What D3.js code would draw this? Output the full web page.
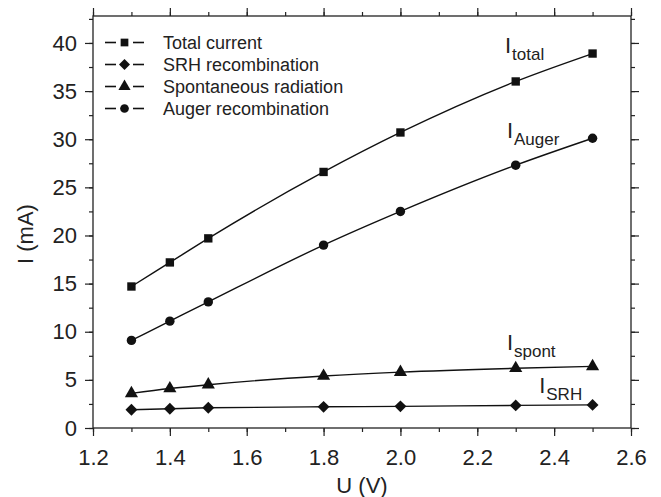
<!DOCTYPE html>
<html>
<head>
<meta charset="utf-8">
<script src="https://cdn.jsdelivr.net/npm/d3@7"></script>
<style>
  body { margin: 0; background: #fff; }
  text { font-family: "Liberation Sans", Arial, sans-serif; fill: #222; }
</style>
</head>
<body>
<svg id="chart" width="661" height="497"></svg>
<script>
// data
var voltages = [1.3, 1.4, 1.5, 1.8, 2.0, 2.3, 2.5];
var totalCurrent = [14.7, 17.2, 19.7, 26.6, 30.7, 36.0, 38.9];
var srhCurrent = [1.9, 2.0, 2.1, 2.2, 2.25, 2.35, 2.4];
var spontCurrent = [3.6, 4.1, 4.5, 5.4, 5.8, 6.2, 6.4];
var augerCurrent = [9.1, 11.1, 13.1, 19.0, 22.5, 27.3, 30.1];
var xTicks = [1.2, 1.4, 1.6, 1.8, 2.0, 2.2, 2.4, 2.6];
var yTicks = [0, 5, 10, 15, 20, 25, 30, 35, 40];
var legendNames = ["Total current", "SRH recombination", "Spontaneous radiation", "Auger recombination"];
var labelSubs = ["total", "SRH", "spont", "Auger"];
var labelU = [2.272, 2.361, 2.277, 2.277];
var labelI = [38.95, 3.64, 8.1, 30.1];

var svg = d3.select('#chart');
var plot = { left: 93, right: 631, top: 16, bottom: 428 };
var FONT = '"Liberation Sans", Arial, sans-serif';

var x = d3.scaleLinear().domain([1.2, 2.6]).range([plot.left, plot.right]);
var y = d3.scaleLinear().domain([0, 42.8]).range([plot.bottom, plot.top]);

var series = [
  { name: legendNames[0], values: totalCurrent, symbol: d3.symbolSquare, size: 70 },
  { name: legendNames[1], values: srhCurrent, symbol: d3.symbolDiamond2, size: 90 },
  { name: legendNames[2], values: spontCurrent, symbol: d3.symbolTriangle, size: 75 },
  { name: legendNames[3], values: augerCurrent, symbol: d3.symbolCircle, size: 70 }
];

// frame
svg.append('rect')
  .attr('x', plot.left).attr('y', plot.top)
  .attr('width', plot.right - plot.left).attr('height', plot.bottom - plot.top)
  .attr('fill', 'none').attr('stroke', '#222').attr('stroke-width', 1.3);

var minorX = d3.range(1.2, 2.61, 0.1);
var minorY = d3.range(0, 42.6, 2.5);

function drawAxis(axis, transform, showLabels) {
  var g = svg.append('g').attr('transform', transform).call(axis);
  g.select('.domain').remove();
  g.selectAll('line').attr('stroke', '#222').attr('stroke-width', 1.2);
  if (!showLabels) g.selectAll('text').remove();
  else g.selectAll('text').attr('font-size', 22).attr('fill', '#222').attr('font-family', FONT);
  return g;
}

// minor ticks on all sides
drawAxis(d3.axisBottom(x).tickValues(minorX).tickSize(4), `translate(0,${plot.bottom})`, false);
drawAxis(d3.axisTop(x).tickValues(minorX).tickSize(4), `translate(0,${plot.top})`, false);
drawAxis(d3.axisLeft(y).tickValues(minorY).tickSize(4), `translate(${plot.left},0)`, false);
drawAxis(d3.axisRight(y).tickValues(minorY).tickSize(4), `translate(${plot.right},0)`, false);

// major ticks
drawAxis(d3.axisBottom(x).tickValues(xTicks).tickSize(8).tickPadding(13).tickFormat(d3.format('.1f')),
  `translate(0,${plot.bottom})`, true);
drawAxis(d3.axisTop(x).tickValues(xTicks).tickSize(8), `translate(0,${plot.top})`, false);
drawAxis(d3.axisLeft(y).tickValues(yTicks).tickSize(8).tickPadding(8).tickFormat(d3.format('d')),
  `translate(${plot.left},0)`, true);
drawAxis(d3.axisRight(y).tickValues(yTicks).tickSize(8), `translate(${plot.right},0)`, false);

// axis titles
svg.append('text').attr('x', (plot.left + plot.right) / 2).attr('y', 493)
  .attr('text-anchor', 'middle').attr('font-size', 22).text('U (V)');
svg.append('text').attr('transform', `translate(33,234) rotate(-90)`)
  .attr('text-anchor', 'middle').attr('font-size', 22).text('I (mA)');

// curves
var line = d3.line()
  .x((d, i) => x(voltages[i]))
  .y(d => y(d))
  .curve(d3.curveMonotoneX);

series.forEach(function(s) {
  var g = svg.append('g');
  g.append('path').attr('d', line(s.values))
    .attr('fill', 'none').attr('stroke', '#111').attr('stroke-width', 1.4);
  g.selectAll('path.pt').data(s.values).enter().append('path')
    .attr('class', 'pt')
    .attr('transform', (d, i) => `translate(${x(voltages[i])},${y(d)})`)
    .attr('d', d3.symbol().type(s.symbol).size(s.size))
    .attr('fill', '#111');
});

// legend
var legend = svg.append('g').attr('transform', 'translate(105,42.5)');
series.forEach(function(s, i) {
  var row = legend.append('g').attr('transform', `translate(0,${i * 22})`);
  row.append('line').attr('x1', 0).attr('x2', 11).attr('y1', 0).attr('y2', 0).attr('stroke', '#111').attr('stroke-width', 1.6);
  row.append('line').attr('x1', 28).attr('x2', 39).attr('y1', 0).attr('y2', 0).attr('stroke', '#111').attr('stroke-width', 1.6);
  row.append('path').attr('transform', 'translate(19.5,0)')
    .attr('d', d3.symbol().type(s.symbol).size(s.size * 0.85)).attr('fill', '#111');
  row.append('text').attr('x', 58).attr('y', 6.5).attr('font-size', 18).text(s.name);
});

// curve labels
labelSubs.forEach(function(sub, i) {
  var t = svg.append('text').attr('x', x(labelU[i])).attr('y', y(labelI[i]));
  t.append('tspan').attr('font-size', 22).text('I');
  t.append('tspan').attr('font-size', 17).attr('dx', 1).attr('dy', 7).text(sub);
});
</script>
</body>
</html>
